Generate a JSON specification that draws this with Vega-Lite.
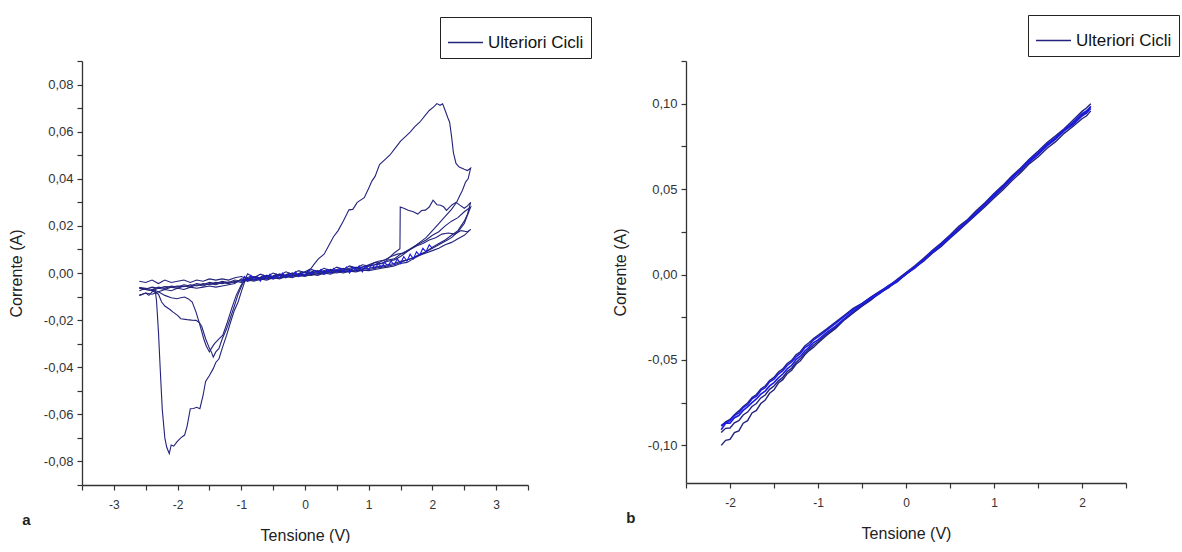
{
"$schema": "https://vega.github.io/schema/vega-lite/v6.json",
"background": "white",
"padding": {"left": 8, "top": 14, "right": 0, "bottom": 0},
"spacing": 20,
"config": {
  "view": {"stroke": null},
  "axis": {"grid": false, "domainColor": "#333", "domainWidth": 1.3, "tickColor": "#333", "tickWidth": 1.2, "tickSize": 5, "labelColor": "#333", "titleColor": "#222", "titleFontWeight": "normal", "labelOverlap": false, "labelFlush": false, "labelBound": false},
  "axisX": {"labelFont": "Liberation Sans", "labelFontSize": 12, "labelPadding": 9, "titleFont": "Liberation Sans", "titleFontSize": 16, "titlePadding": 17},
  "axisY": {"labelFont": "Liberation Sans", "labelFontSize": 13, "labelPadding": 4, "titleFont": "Liberation Sans", "titleFontSize": 16, "titlePadding": 19},
  "legend": {"title": null, "orient": "none", "strokeColor": "#222", "padding": 7, "symbolType": "stroke", "symbolSize": 1225, "symbolStrokeWidth": 1.5, "labelFont": "Liberation Sans", "labelFontSize": 17, "labelColor": "#111", "fillColor": "white"}
},
"resolve": {"scale": {"x": "independent", "y": "independent", "color": "independent"}, "legend": {"color": "independent"}},
"datasets": {
"a": [
{"c":1,"v":-2.6,"i":-0.0035},{"c":1,"v":-2.5,"i":-0.004},{"c":1,"v":-2.4,"i":-0.003},{"c":1,"v":-2.3,"i":-0.0045},{"c":1,"v":-2.2,"i":-0.003},{"c":1,"v":-2.1,"i":-0.004},{"c":1,"v":-2.0,"i":-0.0035},{"c":1,"v":-1.9,"i":-0.003},{"c":1,"v":-1.8,"i":-0.004},{"c":1,"v":-1.7,"i":-0.003},{"c":1,"v":-1.6,"i":-0.0035},{"c":1,"v":-1.5,"i":-0.0025},{"c":1,"v":-1.4,"i":-0.003},{"c":1,"v":-1.3,"i":-0.0025},{"c":1,"v":-1.2,"i":-0.003},{"c":1,"v":-1.1,"i":-0.002},{"c":1,"v":-1.0,"i":-0.0015},{"c":1,"v":-0.9,"i":-0.0025},{"c":1,"v":-0.8,"i":-0.0015},{"c":1,"v":-0.7,"i":-0.002},{"c":1,"v":-0.6,"i":-0.001},{"c":1,"v":-0.5,"i":-0.0015},{"c":1,"v":-0.4,"i":-0.0005},{"c":1,"v":-0.3,"i":-0.001},{"c":1,"v":-0.2,"i":0.0},{"c":1,"v":-0.1,"i":-0.0005},{"c":1,"v":0.0,"i":0.0005},{"c":1,"v":0.09,"i":0.0018},{"c":1,"v":0.15,"i":0.004},{"c":1,"v":0.21,"i":0.006},{"c":1,"v":0.3,"i":0.008},{"c":1,"v":0.38,"i":0.012},{"c":1,"v":0.45,"i":0.0155},{"c":1,"v":0.52,"i":0.018},{"c":1,"v":0.6,"i":0.022},{"c":1,"v":0.69,"i":0.0268},{"c":1,"v":0.75,"i":0.027},{"c":1,"v":0.82,"i":0.03},{"c":1,"v":0.93,"i":0.032},{"c":1,"v":1.0,"i":0.036},{"c":1,"v":1.05,"i":0.039},{"c":1,"v":1.1,"i":0.041},{"c":1,"v":1.17,"i":0.046},{"c":1,"v":1.25,"i":0.048},{"c":1,"v":1.33,"i":0.05},{"c":1,"v":1.41,"i":0.0528},{"c":1,"v":1.5,"i":0.056},{"c":1,"v":1.58,"i":0.058},{"c":1,"v":1.65,"i":0.0598},{"c":1,"v":1.72,"i":0.062},{"c":1,"v":1.8,"i":0.064},{"c":1,"v":1.89,"i":0.067},{"c":1,"v":1.95,"i":0.069},{"c":1,"v":2.02,"i":0.0705},{"c":1,"v":2.07,"i":0.0719},{"c":1,"v":2.12,"i":0.0712},{"c":1,"v":2.16,"i":0.0718},{"c":1,"v":2.2,"i":0.069},{"c":1,"v":2.24,"i":0.066},{"c":1,"v":2.27,"i":0.064},{"c":1,"v":2.3,"i":0.058},{"c":1,"v":2.33,"i":0.051},{"c":1,"v":2.37,"i":0.0465},{"c":1,"v":2.42,"i":0.045},{"c":1,"v":2.5,"i":0.044},{"c":1,"v":2.55,"i":0.0435},{"c":1,"v":2.6,"i":0.0445},
{"c":1,"v":2.56,"i":0.04},{"c":1,"v":2.52,"i":0.0386},{"c":1,"v":2.47,"i":0.035},{"c":1,"v":2.43,"i":0.0329},{"c":1,"v":2.38,"i":0.03},{"c":1,"v":2.3,"i":0.027},{"c":1,"v":2.2,"i":0.024},{"c":1,"v":2.1,"i":0.021},{"c":1,"v":2.0,"i":0.018},{"c":1,"v":1.9,"i":0.015},{"c":1,"v":1.8,"i":0.013},{"c":1,"v":1.7,"i":0.011},{"c":1,"v":1.6,"i":0.009},{"c":1,"v":1.5,"i":0.007},{"c":1,"v":1.4,"i":0.0055},{"c":1,"v":1.3,"i":0.005},{"c":1,"v":1.2,"i":0.004},{"c":1,"v":1.1,"i":0.0035},{"c":1,"v":1.0,"i":0.003},{"c":1,"v":0.9,"i":0.0025},{"c":1,"v":0.8,"i":0.002},{"c":1,"v":0.7,"i":0.0015},{"c":1,"v":0.6,"i":0.001},{"c":1,"v":0.5,"i":0.0012},{"c":1,"v":0.4,"i":0.0005},{"c":1,"v":0.3,"i":0.0008},{"c":1,"v":0.2,"i":0.0},{"c":1,"v":0.1,"i":0.0003},{"c":1,"v":0.0,"i":-0.0005},{"c":1,"v":-0.1,"i":-0.001},{"c":1,"v":-0.2,"i":-0.0008},{"c":1,"v":-0.3,"i":-0.0015},{"c":1,"v":-0.4,"i":-0.001},{"c":1,"v":-0.5,"i":-0.002},{"c":1,"v":-0.6,"i":-0.0015},{"c":1,"v":-0.7,"i":-0.0025},{"c":1,"v":-0.8,"i":-0.002},{"c":1,"v":-0.9,"i":-0.003},{"c":1,"v":-1.0,"i":-0.0025},{"c":1,"v":-1.1,"i":-0.0045},{"c":1,"v":-1.2,"i":-0.005},{"c":1,"v":-1.3,"i":-0.0055},{"c":1,"v":-1.4,"i":-0.006},{"c":1,"v":-1.5,"i":-0.0055},{"c":1,"v":-1.6,"i":-0.006},{"c":1,"v":-1.7,"i":-0.0065},{"c":1,"v":-1.8,"i":-0.006},{"c":1,"v":-1.9,"i":-0.007},{"c":1,"v":-2.0,"i":-0.0065},{"c":1,"v":-2.1,"i":-0.0075},{"c":1,"v":-2.2,"i":-0.007},{"c":1,"v":-2.3,"i":-0.008},{"c":1,"v":-2.4,"i":-0.009},{"c":1,"v":-2.5,"i":-0.0085},{"c":1,"v":-2.6,"i":-0.0095},
{"c":2,"v":-2.6,"i":-0.0095},{"c":2,"v":-2.55,"i":-0.009},{"c":2,"v":-2.5,"i":-0.0085},{"c":2,"v":-2.45,"i":-0.0095},{"c":2,"v":-2.4,"i":-0.008},{"c":2,"v":-2.35,"i":-0.0075},{"c":2,"v":-2.33,"i":-0.012},{"c":2,"v":-2.3,"i":-0.025},{"c":2,"v":-2.27,"i":-0.042},{"c":2,"v":-2.24,"i":-0.058},{"c":2,"v":-2.2,"i":-0.07},{"c":2,"v":-2.17,"i":-0.074},{"c":2,"v":-2.13,"i":-0.0767},{"c":2,"v":-2.1,"i":-0.073},{"c":2,"v":-2.06,"i":-0.0735},{"c":2,"v":-2.01,"i":-0.0717},{"c":2,"v":-1.95,"i":-0.07},{"c":2,"v":-1.89,"i":-0.0688},{"c":2,"v":-1.85,"i":-0.065},{"c":2,"v":-1.8,"i":-0.0576},{"c":2,"v":-1.75,"i":-0.0575},{"c":2,"v":-1.7,"i":-0.057},{"c":2,"v":-1.65,"i":-0.0576},{"c":2,"v":-1.6,"i":-0.052},{"c":2,"v":-1.56,"i":-0.046},{"c":2,"v":-1.5,"i":-0.0435},{"c":2,"v":-1.44,"i":-0.0406},{"c":2,"v":-1.4,"i":-0.038},{"c":2,"v":-1.35,"i":-0.0364},{"c":2,"v":-1.3,"i":-0.032},{"c":2,"v":-1.23,"i":-0.0264},{"c":2,"v":-1.17,"i":-0.021},{"c":2,"v":-1.11,"i":-0.016},{"c":2,"v":-1.05,"i":-0.0123},{"c":2,"v":-1.0,"i":-0.008},{"c":2,"v":-0.93,"i":-0.0024},{"c":2,"v":-0.85,"i":-0.003},{"c":2,"v":-0.8,"i":-0.0015},{"c":2,"v":-0.7,"i":-0.0025},{"c":2,"v":-0.6,"i":-0.001},{"c":2,"v":-0.5,"i":-0.002},{"c":2,"v":-0.4,"i":-0.0005},{"c":2,"v":-0.3,"i":-0.0015},{"c":2,"v":-0.2,"i":0.0},{"c":2,"v":-0.1,"i":-0.001},{"c":2,"v":0.0,"i":0.0005},{"c":2,"v":0.1,"i":-0.0005},{"c":2,"v":0.2,"i":0.001},{"c":2,"v":0.3,"i":0.0},{"c":2,"v":0.4,"i":0.0015},{"c":2,"v":0.5,"i":0.0005},{"c":2,"v":0.6,"i":0.002},{"c":2,"v":0.7,"i":0.001},{"c":2,"v":0.8,"i":0.0025},{"c":2,"v":0.9,"i":0.0015},{"c":2,"v":1.0,"i":0.003},{"c":2,"v":1.1,"i":0.0035},{"c":2,"v":1.2,"i":0.005},{"c":2,"v":1.3,"i":0.006},{"c":2,"v":1.4,"i":0.0085},{"c":2,"v":1.49,"i":0.0103},{"c":2,"v":1.495,"i":0.028},{"c":2,"v":1.55,"i":0.0275},{"c":2,"v":1.62,"i":0.0266},{"c":2,"v":1.7,"i":0.026},{"c":2,"v":1.77,"i":0.025},{"c":2,"v":1.83,"i":0.0265},{"c":2,"v":1.89,"i":0.0267},{"c":2,"v":1.95,"i":0.028},{"c":2,"v":2.01,"i":0.0309},{"c":2,"v":2.07,"i":0.029},{"c":2,"v":2.13,"i":0.0288},{"c":2,"v":2.18,"i":0.028},{"c":2,"v":2.22,"i":0.0266},{"c":2,"v":2.27,"i":0.028},{"c":2,"v":2.31,"i":0.029},{"c":2,"v":2.37,"i":0.03},{"c":2,"v":2.43,"i":0.0288},{"c":2,"v":2.5,"i":0.0275},{"c":2,"v":2.55,"i":0.0285},{"c":2,"v":2.6,"i":0.03},
{"c":2,"v":2.55,"i":0.025},{"c":2,"v":2.5,"i":0.022},{"c":2,"v":2.45,"i":0.02},{"c":2,"v":2.4,"i":0.018},{"c":2,"v":2.3,"i":0.016},{"c":2,"v":2.2,"i":0.014},{"c":2,"v":2.1,"i":0.0125},{"c":2,"v":2.0,"i":0.011},{"c":2,"v":1.9,"i":0.009},{"c":2,"v":1.8,"i":0.0075},{"c":2,"v":1.7,"i":0.006},{"c":2,"v":1.6,"i":0.0045},{"c":2,"v":1.5,"i":0.004},{"c":2,"v":1.4,"i":0.003},{"c":2,"v":1.3,"i":0.0025},{"c":2,"v":1.2,"i":0.002},{"c":2,"v":1.1,"i":0.0015},{"c":2,"v":1.0,"i":0.001},{"c":2,"v":0.9,"i":0.0012},{"c":2,"v":0.8,"i":0.0005},{"c":2,"v":0.7,"i":0.0008},{"c":2,"v":0.6,"i":0.0},{"c":2,"v":0.5,"i":0.0005},{"c":2,"v":0.4,"i":-0.0005},{"c":2,"v":0.3,"i":0.0},{"c":2,"v":0.2,"i":-0.001},{"c":2,"v":0.1,"i":-0.0005},{"c":2,"v":0.0,"i":-0.0015},{"c":2,"v":-0.1,"i":-0.001},{"c":2,"v":-0.2,"i":-0.002},{"c":2,"v":-0.3,"i":-0.0015},{"c":2,"v":-0.4,"i":-0.0025},{"c":2,"v":-0.5,"i":-0.002},{"c":2,"v":-0.6,"i":-0.003},{"c":2,"v":-0.7,"i":-0.0025},{"c":2,"v":-0.8,"i":-0.0035},{"c":2,"v":-0.9,"i":-0.003},{"c":2,"v":-1.0,"i":-0.004},{"c":2,"v":-1.1,"i":-0.0035},{"c":2,"v":-1.2,"i":-0.0045},{"c":2,"v":-1.3,"i":-0.004},{"c":2,"v":-1.4,"i":-0.005},{"c":2,"v":-1.5,"i":-0.0045},{"c":2,"v":-1.6,"i":-0.0055},{"c":2,"v":-1.7,"i":-0.005},{"c":2,"v":-1.8,"i":-0.006},{"c":2,"v":-1.9,"i":-0.0055},{"c":2,"v":-2.0,"i":-0.0065},{"c":2,"v":-2.1,"i":-0.006},{"c":2,"v":-2.2,"i":-0.007},{"c":2,"v":-2.3,"i":-0.0065},{"c":2,"v":-2.4,"i":-0.0075},{"c":2,"v":-2.5,"i":-0.007},{"c":2,"v":-2.6,"i":-0.0065},
{"c":3,"v":-2.6,"i":-0.0065},{"c":3,"v":-2.5,"i":-0.007},{"c":3,"v":-2.4,"i":-0.0075},{"c":3,"v":-2.3,"i":-0.009},{"c":3,"v":-2.25,"i":-0.0123},{"c":3,"v":-2.2,"i":-0.014},{"c":3,"v":-2.12,"i":-0.0155},{"c":3,"v":-2.07,"i":-0.0166},{"c":3,"v":-2.0,"i":-0.018},{"c":3,"v":-1.95,"i":-0.0194},{"c":3,"v":-1.85,"i":-0.0198},{"c":3,"v":-1.78,"i":-0.02},{"c":3,"v":-1.71,"i":-0.0201},{"c":3,"v":-1.66,"i":-0.021},{"c":3,"v":-1.62,"i":-0.0227},{"c":3,"v":-1.56,"i":-0.0279},{"c":3,"v":-1.5,"i":-0.032},{"c":3,"v":-1.47,"i":-0.0335},{"c":3,"v":-1.44,"i":-0.0357},{"c":3,"v":-1.4,"i":-0.0335},{"c":3,"v":-1.35,"i":-0.032},{"c":3,"v":-1.3,"i":-0.028},{"c":3,"v":-1.23,"i":-0.0237},{"c":3,"v":-1.17,"i":-0.019},{"c":3,"v":-1.11,"i":-0.0141},{"c":3,"v":-1.05,"i":-0.009},{"c":3,"v":-0.99,"i":-0.0052},{"c":3,"v":-0.9,"i":-0.0003},{"c":3,"v":-0.8,"i":-0.002},{"c":3,"v":-0.7,"i":-0.0005},{"c":3,"v":-0.6,"i":-0.0015},{"c":3,"v":-0.5,"i":0.0},{"c":3,"v":-0.4,"i":-0.001},{"c":3,"v":-0.3,"i":0.0005},{"c":3,"v":-0.2,"i":-0.0005},{"c":3,"v":-0.1,"i":0.001},{"c":3,"v":0.0,"i":0.0},{"c":3,"v":0.1,"i":0.0015},{"c":3,"v":0.2,"i":0.0005},{"c":3,"v":0.3,"i":0.002},{"c":3,"v":0.4,"i":0.001},{"c":3,"v":0.5,"i":0.0025},{"c":3,"v":0.6,"i":0.0015},{"c":3,"v":0.7,"i":0.003},{"c":3,"v":0.8,"i":0.002},{"c":3,"v":0.9,"i":0.0035},{"c":3,"v":1.0,"i":0.003},{"c":3,"v":1.1,"i":0.0045},{"c":3,"v":1.2,"i":0.004},{"c":3,"v":1.3,"i":0.0055},{"c":3,"v":1.4,"i":0.006},{"c":3,"v":1.5,"i":0.008},{"c":3,"v":1.6,"i":0.0095},{"c":3,"v":1.7,"i":0.011},{"c":3,"v":1.8,"i":0.0125},{"c":3,"v":1.9,"i":0.014},{"c":3,"v":2.0,"i":0.016},{"c":3,"v":2.1,"i":0.0175},{"c":3,"v":2.2,"i":0.02},{"c":3,"v":2.3,"i":0.022},{"c":3,"v":2.4,"i":0.0235},{"c":3,"v":2.5,"i":0.026},{"c":3,"v":2.6,"i":0.028},
{"c":3,"v":2.5,"i":0.021},{"c":3,"v":2.4,"i":0.0175},{"c":3,"v":2.3,"i":0.015},{"c":3,"v":2.2,"i":0.0135},{"c":3,"v":2.1,"i":0.012},{"c":3,"v":2.0,"i":0.0105},{"c":3,"v":1.9,"i":0.009},{"c":3,"v":1.8,"i":0.008},{"c":3,"v":1.7,"i":0.0065},{"c":3,"v":1.6,"i":0.0055},{"c":3,"v":1.5,"i":0.0045},{"c":3,"v":1.4,"i":0.0035},{"c":3,"v":1.3,"i":0.003},{"c":3,"v":1.2,"i":0.0025},{"c":3,"v":1.1,"i":0.002},{"c":3,"v":1.0,"i":0.0015},{"c":3,"v":0.9,"i":0.001},{"c":3,"v":0.8,"i":0.0012},{"c":3,"v":0.7,"i":0.0005},{"c":3,"v":0.6,"i":0.0008},{"c":3,"v":0.5,"i":0.0},{"c":3,"v":0.4,"i":0.0003},{"c":3,"v":0.3,"i":-0.0005},{"c":3,"v":0.2,"i":-0.0002},{"c":3,"v":0.1,"i":-0.001},{"c":3,"v":0.0,"i":-0.0008},{"c":3,"v":-0.1,"i":-0.0015},{"c":3,"v":-0.2,"i":-0.0012},{"c":3,"v":-0.3,"i":-0.002},{"c":3,"v":-0.4,"i":-0.0018},{"c":3,"v":-0.5,"i":-0.0025},{"c":3,"v":-0.6,"i":-0.002},{"c":3,"v":-0.7,"i":-0.003},{"c":3,"v":-0.8,"i":-0.0028},{"c":3,"v":-0.9,"i":-0.0035},{"c":3,"v":-1.0,"i":-0.003},{"c":3,"v":-1.1,"i":-0.004},{"c":3,"v":-1.2,"i":-0.0038},{"c":3,"v":-1.3,"i":-0.0045},{"c":3,"v":-1.4,"i":-0.004},{"c":3,"v":-1.5,"i":-0.005},{"c":3,"v":-1.6,"i":-0.0045},{"c":3,"v":-1.7,"i":-0.0055},{"c":3,"v":-1.8,"i":-0.005},{"c":3,"v":-1.9,"i":-0.0058},{"c":3,"v":-2.0,"i":-0.0055},{"c":3,"v":-2.1,"i":-0.006},{"c":3,"v":-2.2,"i":-0.0058},{"c":3,"v":-2.3,"i":-0.0065},{"c":3,"v":-2.4,"i":-0.006},{"c":3,"v":-2.5,"i":-0.0068},{"c":3,"v":-2.6,"i":-0.0062},
{"c":4,"v":-2.6,"i":-0.0062},{"c":4,"v":-2.5,"i":-0.0065},{"c":4,"v":-2.4,"i":-0.007},{"c":4,"v":-2.3,"i":-0.008},{"c":4,"v":-2.2,"i":-0.0095},{"c":4,"v":-2.1,"i":-0.0105},{"c":4,"v":-2.01,"i":-0.0109},{"c":4,"v":-1.95,"i":-0.0105},{"c":4,"v":-1.89,"i":-0.0102},{"c":4,"v":-1.83,"i":-0.011},{"c":4,"v":-1.77,"i":-0.0123},{"c":4,"v":-1.71,"i":-0.0166},{"c":4,"v":-1.65,"i":-0.022},{"c":4,"v":-1.59,"i":-0.0279},{"c":4,"v":-1.55,"i":-0.031},{"c":4,"v":-1.5,"i":-0.0335},{"c":4,"v":-1.47,"i":-0.032},{"c":4,"v":-1.42,"i":-0.03},{"c":4,"v":-1.35,"i":-0.028},{"c":4,"v":-1.29,"i":-0.0264},{"c":4,"v":-1.22,"i":-0.021},{"c":4,"v":-1.15,"i":-0.015},{"c":4,"v":-1.08,"i":-0.0095},{"c":4,"v":-1.0,"i":-0.005},{"c":4,"v":-0.92,"i":-0.002},{"c":4,"v":-0.85,"i":-0.0015},{"c":4,"v":-0.75,"i":-0.0025},{"c":4,"v":-0.65,"i":-0.001},{"c":4,"v":-0.55,"i":-0.002},{"c":4,"v":-0.45,"i":-0.0005},{"c":4,"v":-0.35,"i":-0.0015},{"c":4,"v":-0.25,"i":0.0},{"c":4,"v":-0.15,"i":-0.001},{"c":4,"v":-0.05,"i":0.0005},{"c":4,"v":0.05,"i":0.0},{"c":4,"v":0.15,"i":0.001},{"c":4,"v":0.25,"i":0.0005},{"c":4,"v":0.35,"i":0.0015},{"c":4,"v":0.45,"i":0.001},{"c":4,"v":0.55,"i":0.002},{"c":4,"v":0.65,"i":0.0015},{"c":4,"v":0.75,"i":0.0025},{"c":4,"v":0.85,"i":0.002},{"c":4,"v":0.95,"i":0.003},{"c":4,"v":1.05,"i":0.004},{"c":4,"v":1.15,"i":0.005},{"c":4,"v":1.25,"i":0.0055},{"c":4,"v":1.35,"i":0.007},{"c":4,"v":1.45,"i":0.008},{"c":4,"v":1.55,"i":0.0085},{"c":4,"v":1.65,"i":0.01},{"c":4,"v":1.75,"i":0.0115},{"c":4,"v":1.85,"i":0.0125},{"c":4,"v":1.95,"i":0.014},{"c":4,"v":2.05,"i":0.015},{"c":4,"v":2.15,"i":0.0165},{"c":4,"v":2.25,"i":0.017},{"c":4,"v":2.35,"i":0.0165},{"c":4,"v":2.45,"i":0.018},{"c":4,"v":2.55,"i":0.0175},{"c":4,"v":2.6,"i":0.0185},
{"c":4,"v":2.5,"i":0.016},{"c":4,"v":2.4,"i":0.0145},{"c":4,"v":2.3,"i":0.013},{"c":4,"v":2.2,"i":0.012},{"c":4,"v":2.1,"i":0.0105},{"c":4,"v":2.0,"i":0.0095},{"c":4,"v":1.9,"i":0.0085},{"c":4,"v":1.8,"i":0.0075},{"c":4,"v":1.7,"i":0.0065},{"c":4,"v":1.6,"i":0.0055},{"c":4,"v":1.5,"i":0.005},{"c":4,"v":1.4,"i":0.004},{"c":4,"v":1.3,"i":0.0035},{"c":4,"v":1.2,"i":0.003},{"c":4,"v":1.1,"i":0.0025},{"c":4,"v":1.0,"i":0.002},{"c":4,"v":0.9,"i":0.0018},{"c":4,"v":0.8,"i":0.0012},{"c":4,"v":0.7,"i":0.001},{"c":4,"v":0.6,"i":0.0005},{"c":4,"v":0.5,"i":0.0008},{"c":4,"v":0.4,"i":0.0},{"c":4,"v":0.3,"i":0.0003},{"c":4,"v":0.2,"i":-0.0005},{"c":4,"v":0.1,"i":0.0},{"c":4,"v":0.0,"i":-0.001},{"c":4,"v":-0.1,"i":-0.0005},{"c":4,"v":-0.2,"i":-0.0015},{"c":4,"v":-0.3,"i":-0.001},{"c":4,"v":-0.4,"i":-0.002},{"c":4,"v":-0.5,"i":-0.0015},{"c":4,"v":-0.6,"i":-0.0025},{"c":4,"v":-0.7,"i":-0.002},{"c":4,"v":-0.8,"i":-0.003},{"c":4,"v":-0.9,"i":-0.0025},{"c":4,"v":-1.0,"i":-0.0035},{"c":4,"v":-1.1,"i":-0.003},{"c":4,"v":-1.2,"i":-0.004},{"c":4,"v":-1.3,"i":-0.0035},{"c":4,"v":-1.4,"i":-0.0045},{"c":4,"v":-1.5,"i":-0.004},{"c":4,"v":-1.6,"i":-0.005},{"c":4,"v":-1.7,"i":-0.0045},{"c":4,"v":-1.8,"i":-0.0055},{"c":4,"v":-1.9,"i":-0.005},{"c":4,"v":-2.0,"i":-0.006},{"c":4,"v":-2.1,"i":-0.0055},{"c":4,"v":-2.2,"i":-0.0065},{"c":4,"v":-2.3,"i":-0.006},{"c":4,"v":-2.4,"i":-0.007},{"c":4,"v":-2.5,"i":-0.0065},{"c":4,"v":-2.6,"i":-0.0075},
{"c":5,"v":-1.0,"i":-0.004},{"c":5,"v":-0.95,"i":-0.0015},{"c":5,"v":-0.9,"i":-0.0035},{"c":5,"v":-0.85,"i":-0.001},{"c":5,"v":-0.8,"i":-0.003},{"c":5,"v":-0.75,"i":-0.0015},{"c":5,"v":-0.7,"i":-0.0035},{"c":5,"v":-0.65,"i":-0.001},{"c":5,"v":-0.6,"i":-0.0025},{"c":5,"v":-0.55,"i":-0.0005},{"c":5,"v":-0.5,"i":-0.0025},{"c":5,"v":-0.45,"i":-0.001},{"c":5,"v":-0.4,"i":-0.002},{"c":5,"v":-0.35,"i":0.0},{"c":5,"v":-0.3,"i":-0.002},{"c":5,"v":-0.25,"i":-0.0005},{"c":5,"v":-0.2,"i":-0.0015},{"c":5,"v":-0.15,"i":0.0005},{"c":5,"v":-0.1,"i":-0.0015},{"c":5,"v":-0.05,"i":0.0},{"c":5,"v":0.0,"i":-0.001},{"c":5,"v":0.05,"i":0.001},{"c":5,"v":0.1,"i":-0.0005},{"c":5,"v":0.15,"i":0.001},{"c":5,"v":0.2,"i":0.0},{"c":5,"v":0.25,"i":0.0015},{"c":5,"v":0.3,"i":-0.0005},{"c":5,"v":0.35,"i":0.0015},{"c":5,"v":0.4,"i":0.0},{"c":5,"v":0.45,"i":0.002},{"c":5,"v":0.5,"i":0.0005},{"c":5,"v":0.55,"i":0.002},{"c":5,"v":0.6,"i":0.0005},{"c":5,"v":0.65,"i":0.0025},{"c":5,"v":0.7,"i":0.0},{"c":5,"v":0.75,"i":0.0025},{"c":5,"v":0.8,"i":0.001},{"c":5,"v":0.85,"i":0.003},{"c":5,"v":0.9,"i":0.0005},{"c":5,"v":0.95,"i":0.003},{"c":5,"v":1.0,"i":0.0015},{"c":5,"v":1.05,"i":0.0035},{"c":5,"v":1.1,"i":0.002},{"c":5,"v":1.15,"i":0.004},{"c":5,"v":1.2,"i":0.0025},{"c":5,"v":1.25,"i":0.0045},{"c":5,"v":1.3,"i":0.003},{"c":5,"v":1.35,"i":0.005},{"c":5,"v":1.4,"i":0.0035},{"c":5,"v":1.45,"i":0.006},{"c":5,"v":1.5,"i":0.004},{"c":5,"v":1.55,"i":0.007},{"c":5,"v":1.6,"i":0.005},{"c":5,"v":1.65,"i":0.008},{"c":5,"v":1.7,"i":0.006},{"c":5,"v":1.75,"i":0.009},{"c":5,"v":1.8,"i":0.0075},{"c":5,"v":1.85,"i":0.0105},{"c":5,"v":1.9,"i":0.009},{"c":5,"v":1.95,"i":0.012},{"c":5,"v":2.0,"i":0.0105}
],
"b": [
{"c":1,"v":-2.1,"i":-0.1},{"c":1,"v":-2.05,"i":-0.097},{"c":1,"v":-2.0,"i":-0.0965},{"c":1,"v":-1.95,"i":-0.0925},{"c":1,"v":-1.9,"i":-0.0915},{"c":1,"v":-1.85,"i":-0.087},{"c":1,"v":-1.8,"i":-0.0855},{"c":1,"v":-1.75,"i":-0.081},{"c":1,"v":-1.7,"i":-0.0795},{"c":1,"v":-1.65,"i":-0.0755},{"c":1,"v":-1.6,"i":-0.0735},{"c":1,"v":-1.55,"i":-0.0695},{"c":1,"v":-1.5,"i":-0.0675},{"c":1,"v":-1.45,"i":-0.0635},{"c":1,"v":-1.4,"i":-0.0615},{"c":1,"v":-1.35,"i":-0.058},{"c":1,"v":-1.3,"i":-0.056},{"c":1,"v":-1.25,"i":-0.0525},{"c":1,"v":-1.2,"i":-0.0505},{"c":1,"v":-1.15,"i":-0.047},{"c":1,"v":-1.1,"i":-0.0445},{"c":1,"v":-1.05,"i":-0.0425},{"c":1,"v":-1.0,"i":-0.04},{"c":1,"v":-0.9,"i":-0.0355},{"c":1,"v":-0.8,"i":-0.0315},{"c":1,"v":-0.7,"i":-0.0265},{"c":1,"v":-0.6,"i":-0.0225},{"c":1,"v":-0.5,"i":-0.0185},{"c":1,"v":-0.4,"i":-0.015},{"c":1,"v":-0.3,"i":-0.0108},{"c":1,"v":-0.2,"i":-0.0078},{"c":1,"v":-0.1,"i":-0.0038},{"c":1,"v":0.0,"i":0.0},{"c":1,"v":0.1,"i":0.0042},{"c":1,"v":0.2,"i":0.0078},{"c":1,"v":0.3,"i":0.0125},{"c":1,"v":0.4,"i":0.0165},{"c":1,"v":0.5,"i":0.0212},{"c":1,"v":0.6,"i":0.0258},{"c":1,"v":0.7,"i":0.0305},{"c":1,"v":0.8,"i":0.0352},{"c":1,"v":0.9,"i":0.0398},{"c":1,"v":1.0,"i":0.0448},{"c":1,"v":1.1,"i":0.0495},{"c":1,"v":1.2,"i":0.0548},{"c":1,"v":1.3,"i":0.0595},{"c":1,"v":1.4,"i":0.0648},{"c":1,"v":1.5,"i":0.0688},{"c":1,"v":1.6,"i":0.0738},{"c":1,"v":1.7,"i":0.0778},{"c":1,"v":1.8,"i":0.0828},{"c":1,"v":1.9,"i":0.0868},{"c":1,"v":2.0,"i":0.0912},{"c":1,"v":2.05,"i":0.0928},{"c":1,"v":2.1,"i":0.0958},
{"c":2,"v":2.1,"i":0.1},{"c":2,"v":2.05,"i":0.0975},{"c":2,"v":2.0,"i":0.0955},{"c":2,"v":1.9,"i":0.0905},{"c":2,"v":1.8,"i":0.0855},{"c":2,"v":1.7,"i":0.0812},{"c":2,"v":1.6,"i":0.0772},{"c":2,"v":1.5,"i":0.0722},{"c":2,"v":1.4,"i":0.0675},{"c":2,"v":1.3,"i":0.0622},{"c":2,"v":1.2,"i":0.0575},{"c":2,"v":1.1,"i":0.0522},{"c":2,"v":1.0,"i":0.0475},{"c":2,"v":0.9,"i":0.0422},{"c":2,"v":0.8,"i":0.0375},{"c":2,"v":0.7,"i":0.0322},{"c":2,"v":0.6,"i":0.0282},{"c":2,"v":0.5,"i":0.0232},{"c":2,"v":0.4,"i":0.0185},{"c":2,"v":0.3,"i":0.0142},{"c":2,"v":0.2,"i":0.0095},{"c":2,"v":0.1,"i":0.0052},{"c":2,"v":0.0,"i":0.0012},{"c":2,"v":-0.1,"i":-0.0028},{"c":2,"v":-0.2,"i":-0.0068},{"c":2,"v":-0.3,"i":-0.0098},{"c":2,"v":-0.4,"i":-0.0132},{"c":2,"v":-0.5,"i":-0.0168},{"c":2,"v":-0.6,"i":-0.0198},{"c":2,"v":-0.7,"i":-0.0238},{"c":2,"v":-0.8,"i":-0.0278},{"c":2,"v":-0.9,"i":-0.0318},{"c":2,"v":-1.0,"i":-0.0355},{"c":2,"v":-1.05,"i":-0.0375},{"c":2,"v":-1.1,"i":-0.0398},{"c":2,"v":-1.15,"i":-0.0418},{"c":2,"v":-1.2,"i":-0.0452},{"c":2,"v":-1.25,"i":-0.047},{"c":2,"v":-1.3,"i":-0.0502},{"c":2,"v":-1.35,"i":-0.052},{"c":2,"v":-1.4,"i":-0.0552},{"c":2,"v":-1.45,"i":-0.057},{"c":2,"v":-1.5,"i":-0.0602},{"c":2,"v":-1.55,"i":-0.062},{"c":2,"v":-1.6,"i":-0.0652},{"c":2,"v":-1.65,"i":-0.067},{"c":2,"v":-1.7,"i":-0.0702},{"c":2,"v":-1.75,"i":-0.072},{"c":2,"v":-1.8,"i":-0.0752},{"c":2,"v":-1.85,"i":-0.0772},{"c":2,"v":-1.9,"i":-0.0798},{"c":2,"v":-1.95,"i":-0.082},{"c":2,"v":-2.0,"i":-0.0848},{"c":2,"v":-2.05,"i":-0.0862},{"c":2,"v":-2.1,"i":-0.0885},
{"c":3,"v":-2.1,"i":-0.0885},{"c":3,"v":-2.05,"i":-0.0868},{"c":3,"v":-2.0,"i":-0.087},{"c":3,"v":-1.95,"i":-0.0838},{"c":3,"v":-1.9,"i":-0.0825},{"c":3,"v":-1.85,"i":-0.0795},{"c":3,"v":-1.8,"i":-0.0775},{"c":3,"v":-1.75,"i":-0.075},{"c":3,"v":-1.7,"i":-0.0728},{"c":3,"v":-1.65,"i":-0.07},{"c":3,"v":-1.6,"i":-0.0682},{"c":3,"v":-1.55,"i":-0.0652},{"c":3,"v":-1.5,"i":-0.0632},{"c":3,"v":-1.45,"i":-0.0605},{"c":3,"v":-1.4,"i":-0.0582},{"c":3,"v":-1.35,"i":-0.0552},{"c":3,"v":-1.3,"i":-0.0532},{"c":3,"v":-1.25,"i":-0.0498},{"c":3,"v":-1.2,"i":-0.0478},{"c":3,"v":-1.15,"i":-0.0448},{"c":3,"v":-1.1,"i":-0.0425},{"c":3,"v":-1.05,"i":-0.0398},{"c":3,"v":-1.0,"i":-0.0382},{"c":3,"v":-0.9,"i":-0.0338},{"c":3,"v":-0.8,"i":-0.0302},{"c":3,"v":-0.7,"i":-0.0258},{"c":3,"v":-0.6,"i":-0.0215},{"c":3,"v":-0.5,"i":-0.0178},{"c":3,"v":-0.4,"i":-0.0142},{"c":3,"v":-0.3,"i":-0.0112},{"c":3,"v":-0.2,"i":-0.0072},{"c":3,"v":-0.1,"i":-0.0042},{"c":3,"v":0.0,"i":0.0004},{"c":3,"v":0.1,"i":0.0038},{"c":3,"v":0.2,"i":0.0085},{"c":3,"v":0.3,"i":0.0128},{"c":3,"v":0.4,"i":0.0172},{"c":3,"v":0.5,"i":0.0218},{"c":3,"v":0.6,"i":0.0268},{"c":3,"v":0.7,"i":0.0312},{"c":3,"v":0.8,"i":0.0358},{"c":3,"v":0.9,"i":0.0412},{"c":3,"v":1.0,"i":0.0458},{"c":3,"v":1.1,"i":0.0512},{"c":3,"v":1.2,"i":0.0558},{"c":3,"v":1.3,"i":0.0612},{"c":3,"v":1.4,"i":0.0658},{"c":3,"v":1.5,"i":0.0702},{"c":3,"v":1.6,"i":0.0752},{"c":3,"v":1.7,"i":0.0792},{"c":3,"v":1.8,"i":0.0842},{"c":3,"v":1.9,"i":0.0878},{"c":3,"v":2.0,"i":0.0928},{"c":3,"v":2.05,"i":0.0945},{"c":3,"v":2.1,"i":0.0972},
{"c":4,"v":2.1,"i":0.0982},{"c":4,"v":2.05,"i":0.0958},{"c":4,"v":2.0,"i":0.0942},{"c":4,"v":1.9,"i":0.0892},{"c":4,"v":1.8,"i":0.0848},{"c":4,"v":1.7,"i":0.0802},{"c":4,"v":1.6,"i":0.0762},{"c":4,"v":1.5,"i":0.0712},{"c":4,"v":1.4,"i":0.0668},{"c":4,"v":1.3,"i":0.0615},{"c":4,"v":1.2,"i":0.0568},{"c":4,"v":1.1,"i":0.0515},{"c":4,"v":1.0,"i":0.0468},{"c":4,"v":0.9,"i":0.0415},{"c":4,"v":0.8,"i":0.0365},{"c":4,"v":0.7,"i":0.0315},{"c":4,"v":0.6,"i":0.0272},{"c":4,"v":0.5,"i":0.0225},{"c":4,"v":0.4,"i":0.0178},{"c":4,"v":0.3,"i":0.0135},{"c":4,"v":0.2,"i":0.0088},{"c":4,"v":0.1,"i":0.0045},{"c":4,"v":0.0,"i":0.0005},{"c":4,"v":-0.1,"i":-0.0035},{"c":4,"v":-0.2,"i":-0.0065},{"c":4,"v":-0.3,"i":-0.0105},{"c":4,"v":-0.4,"i":-0.0135},{"c":4,"v":-0.5,"i":-0.0172},{"c":4,"v":-0.6,"i":-0.0205},{"c":4,"v":-0.7,"i":-0.0245},{"c":4,"v":-0.8,"i":-0.0285},{"c":4,"v":-0.9,"i":-0.0325},{"c":4,"v":-1.0,"i":-0.0365},{"c":4,"v":-1.05,"i":-0.0382},{"c":4,"v":-1.1,"i":-0.0412},{"c":4,"v":-1.15,"i":-0.0428},{"c":4,"v":-1.2,"i":-0.0462},{"c":4,"v":-1.25,"i":-0.0482},{"c":4,"v":-1.3,"i":-0.0512},{"c":4,"v":-1.35,"i":-0.0532},{"c":4,"v":-1.4,"i":-0.0562},{"c":4,"v":-1.45,"i":-0.0582},{"c":4,"v":-1.5,"i":-0.0612},{"c":4,"v":-1.55,"i":-0.0628},{"c":4,"v":-1.6,"i":-0.0662},{"c":4,"v":-1.65,"i":-0.0678},{"c":4,"v":-1.7,"i":-0.0712},{"c":4,"v":-1.75,"i":-0.0728},{"c":4,"v":-1.8,"i":-0.0762},{"c":4,"v":-1.85,"i":-0.0778},{"c":4,"v":-1.9,"i":-0.081},{"c":4,"v":-1.95,"i":-0.0825},{"c":4,"v":-2.0,"i":-0.0855},{"c":4,"v":-2.05,"i":-0.087},{"c":4,"v":-2.1,"i":-0.0908},
{"c":5,"v":-2.1,"i":-0.0925},{"c":5,"v":-2.05,"i":-0.09},{"c":5,"v":-2.0,"i":-0.0898},{"c":5,"v":-1.95,"i":-0.0868},{"c":5,"v":-1.9,"i":-0.0855},{"c":5,"v":-1.85,"i":-0.0822},{"c":5,"v":-1.8,"i":-0.0805},{"c":5,"v":-1.75,"i":-0.0772},{"c":5,"v":-1.7,"i":-0.0755},{"c":5,"v":-1.65,"i":-0.0722},{"c":5,"v":-1.6,"i":-0.0705},{"c":5,"v":-1.55,"i":-0.0672},{"c":5,"v":-1.5,"i":-0.0652},{"c":5,"v":-1.45,"i":-0.0622},{"c":5,"v":-1.4,"i":-0.0602},{"c":5,"v":-1.35,"i":-0.0568},{"c":5,"v":-1.3,"i":-0.0548},{"c":5,"v":-1.25,"i":-0.0515},{"c":5,"v":-1.2,"i":-0.0492},{"c":5,"v":-1.15,"i":-0.0462},{"c":5,"v":-1.1,"i":-0.0435},{"c":5,"v":-1.05,"i":-0.0412},{"c":5,"v":-1.0,"i":-0.0392},{"c":5,"v":-0.9,"i":-0.0348},{"c":5,"v":-0.8,"i":-0.0308},{"c":5,"v":-0.7,"i":-0.0262},{"c":5,"v":-0.6,"i":-0.0222},{"c":5,"v":-0.5,"i":-0.0182},{"c":5,"v":-0.4,"i":-0.0145},{"c":5,"v":-0.3,"i":-0.0105},{"c":5,"v":-0.2,"i":-0.0075},{"c":5,"v":-0.1,"i":-0.0035},{"c":5,"v":0.0,"i":0.0002},{"c":5,"v":0.1,"i":0.0045},{"c":5,"v":0.2,"i":0.0082},{"c":5,"v":0.3,"i":0.0132},{"c":5,"v":0.4,"i":0.0168},{"c":5,"v":0.5,"i":0.0222},{"c":5,"v":0.6,"i":0.0262},{"c":5,"v":0.7,"i":0.0318},{"c":5,"v":0.8,"i":0.0362},{"c":5,"v":0.9,"i":0.0405},{"c":5,"v":1.0,"i":0.0462},{"c":5,"v":1.1,"i":0.0505},{"c":5,"v":1.2,"i":0.0562},{"c":5,"v":1.3,"i":0.0605},{"c":5,"v":1.4,"i":0.0662},{"c":5,"v":1.5,"i":0.0705},{"c":5,"v":1.6,"i":0.0758},{"c":5,"v":1.7,"i":0.0795},{"c":5,"v":1.8,"i":0.0848},{"c":5,"v":1.9,"i":0.0885},{"c":5,"v":2.0,"i":0.0935},{"c":5,"v":2.05,"i":0.0952},{"c":5,"v":2.1,"i":0.0985}
]
},
"hconcat": [
{
 "width": 446, "height": 424,
 "data": {"name": "a"},
 "title": {"text": "a", "orient": "bottom", "anchor": "start", "frame": "bounds", "offset": -30, "dx": 14, "font": "Liberation Sans", "fontSize": 15, "fontWeight": "bold", "color": "#222"},
 "encoding": {
  "x": {"field": "v", "type": "quantitative", "scale": {"domain": [-3.5, 3.5], "nice": false, "zero": false},
        "axis": {"title": "Tensione (V)", "values": [-3.5,-3,-2.5,-2,-1.5,-1,-0.5,0,0.5,1,1.5,2,2.5,3,3.5], "labelExpr": "datum.value % 1 == 0 ? replace(format(datum.value, 'd'), '\u2212', '-') : ''"}},
  "y": {"field": "i", "type": "quantitative", "scale": {"domain": [-0.09, 0.09], "nice": false, "zero": false},
        "axis": {"title": "Corrente (A)", "values": [-0.09,-0.08,-0.07,-0.06,-0.05,-0.04,-0.03,-0.02,-0.01,0,0.01,0.02,0.03,0.04,0.05,0.06,0.07,0.08,0.09], "labelExpr": "(round(datum.value * 100) % 2 == 0 && abs(datum.value) < 0.085) ? replace(replace(format(datum.value, '.2f'), '.', ','), '\u2212', '-') : ''"}},
  "order": {"value": null}
 },
 "layer": [
  {"transform": [{"filter": "datum.c < 5"}],
   "mark": {"type": "line", "strokeWidth": 1.1},
   "encoding": {"detail": {"field": "c"}, "color": {"datum": "Ulteriori Cicli", "scale": {"range": ["#23237c"]}, "legend": {"legendX": 358, "legendY": -44}}}},
  {"transform": [{"filter": "datum.c == 5"}],
   "mark": {"type": "line", "strokeWidth": 1.1, "color": "#1c1ce0"},
   "encoding": {}}
 ]
},
{
 "width": 440, "height": 422,
 "data": {"name": "b"},
 "title": {"text": "b", "orient": "bottom", "anchor": "start", "frame": "bounds", "offset": -30, "dx": 14, "font": "Liberation Sans", "fontSize": 15, "fontWeight": "bold", "color": "#222"},
 "encoding": {
  "x": {"field": "v", "type": "quantitative", "scale": {"domain": [-2.5, 2.5], "nice": false, "zero": false},
        "axis": {"title": "Tensione (V)", "values": [-2.5,-2,-1.5,-1,-0.5,0,0.5,1,1.5,2,2.5], "labelExpr": "datum.value % 1 == 0 ? replace(format(datum.value, 'd'), '\u2212', '-') : ''"}},
  "y": {"field": "i", "type": "quantitative", "scale": {"domain": [-0.122, 0.125], "nice": false, "zero": false},
        "axis": {"title": "Corrente (A)", "values": [-0.1,-0.075,-0.05,-0.025,0,0.025,0.05,0.075,0.1,0.125], "labelExpr": "round(datum.value * 1000) % 50 == 0 ? replace(replace(format(datum.value, '.2f'), '.', ','), '\u2212', '-') : ''"}},
  "order": {"value": null}
 },
 "layer": [
  {"transform": [{"filter": "datum.c == 1 || datum.c == 2 || datum.c == 5"}],
   "mark": {"type": "line", "strokeWidth": 1.4},
   "encoding": {"detail": {"field": "c"}, "color": {"datum": "Ulteriori Cicli", "scale": {"range": ["#23237c"]}, "legend": {"legendX": 342, "legendY": -46}}}},
  {"transform": [{"filter": "datum.c == 3 || datum.c == 4"}],
   "mark": {"type": "line", "strokeWidth": 1.6, "color": "#1c1ce0"},
   "encoding": {"detail": {"field": "c"}}}
 ]
}
]
}
